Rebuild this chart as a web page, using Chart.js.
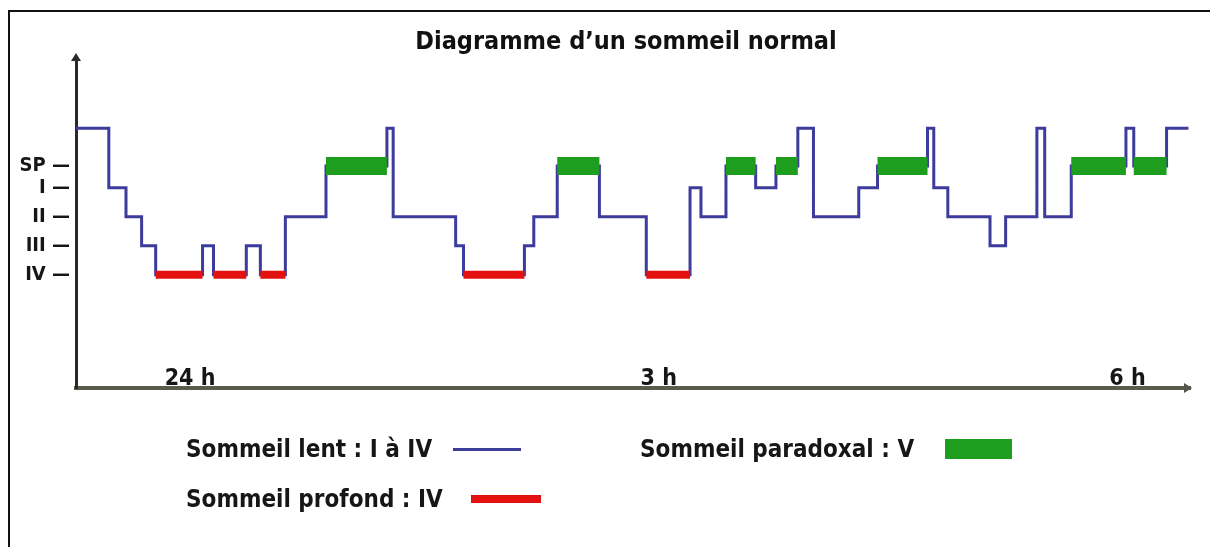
<!DOCTYPE html>
<html lang="fr">
<head>
    <meta charset="UTF-8">
    <title>Diagramme d'un sommeil normal</title>
    <script src="https://cdn.jsdelivr.net/npm/chart.js"></script>
    <style>
        html, body { margin: 0; padding: 0; background: #fff; }
        .wrap { position: relative; width: 1210px; height: 547px; overflow: hidden; }
        .frame { position: absolute; left: 8px; top: 10px; width: 1400px; height: 800px;
                 border-left: 2px solid #111; border-top: 2px solid #111; }
        canvas { position: absolute; left: 0; top: 0; }
        #legend { position: absolute; left: 186px; top: 436px; display: grid;
                  grid-template-columns: 454px auto; row-gap: 24px;
                  font-family: 'DejaVu Sans Condensed', 'DejaVu Sans', sans-serif;
                  font-weight: bold; font-size: 24px; color: #161616; }
        .item { display: flex; align-items: center; height: 26px; }
        .swatch { display: inline-block; }
    </style>
</head>
<body>
<div class="wrap">
    <div class="frame"></div>
    <canvas id="chart" width="1210" height="547"></canvas>
    <div id="legend"></div>
</div>

<script>
    // stades du sommeil (de bas en haut) et leur niveau sur l'axe
    const stageNames = ['IV', 'III', 'II', 'I', 'SP', 'W'];
    const stageLevels = [0, 1, 2, 3, 3.75, 5.05];
    const tickStages = ['SP', 'I', 'II', 'III', 'IV'];

    // début de chaque phase (heures après 24 h) et stade correspondant
    const startTimes = [-0.73, -0.52, -0.41, -0.31, -0.22, 0.08, 0.15, 0.36, 0.45, 0.61,
                        0.87, 1.26, 1.30, 1.70, 1.75, 2.14, 2.20, 2.35, 2.62, 2.92,
                        3.20, 3.27, 3.43, 3.62, 3.75, 3.89, 3.99, 4.28, 4.40, 4.72,
                        4.76, 4.85, 5.12, 5.22, 5.42, 5.47, 5.64, 5.99, 6.04, 6.25];
    const stages = ['W', 'I', 'II', 'III', 'IV', 'III', 'IV', 'III', 'IV', 'II',
                    'SP', 'W', 'II', 'III', 'IV', 'III', 'II', 'SP', 'II', 'IV',
                    'I', 'II', 'SP', 'I', 'SP', 'W', 'II', 'I', 'SP', 'W',
                    'I', 'II', 'III', 'II', 'W', 'II', 'SP', 'W', 'SP', 'W'];
    const endTime = 6.39;

    // graduations de l'axe du temps
    const hourTicks = [0, 3, 6];
    const hourLabels = ['24 h', '3 h', '6 h'];

    const TITLE = 'Diagramme d\u2019un sommeil normal';
    const FONT = "'DejaVu Sans Condensed', 'DejaVu Sans', sans-serif";
    const level = s => stageLevels[stageNames.indexOf(s)];

    // courbe complète
    const hypno = startTimes.map((t, i) => ({ x: t, y: level(stages[i]) }));
    hypno.push({ x: endTime, y: level(stages[stages.length - 1]) });

    // segments d'un seul stade (coupés par des trous)
    function bands(stage) {
        const pts = [];
        stages.forEach((s, i) => {
            if (s !== stage) return;
            const end = i + 1 < startTimes.length ? startTimes[i + 1] : endTime;
            pts.push({ x: startTimes[i], y: level(s) }, { x: end, y: level(s) }, { x: end, y: null });
        });
        return pts;
    }

    // titre, flèches au bout des axes, heures posées au-dessus de l'axe
    const decor = {
        id: 'decor',
        afterDraw(chart) {
            const { ctx, chartArea: a } = chart;
            const xs = chart.scales.x;
            ctx.save();
            ctx.fillStyle = '#2a2a2a';
            ctx.beginPath();
            ctx.moveTo(a.left - 5, a.top + 4);
            ctx.lineTo(a.left, a.top - 4);
            ctx.lineTo(a.left + 5, a.top + 4);
            ctx.fill();
            ctx.fillStyle = '#55554a';
            ctx.beginPath();
            ctx.moveTo(a.right - 6, a.bottom - 5);
            ctx.lineTo(a.right + 2, a.bottom);
            ctx.lineTo(a.right - 6, a.bottom + 5);
            ctx.fill();

            ctx.fillStyle = '#111';
            ctx.textAlign = 'center';
            ctx.textBaseline = 'middle';
            ctx.font = 'bold 25px ' + FONT;
            ctx.fillText(TITLE, 626, 42);

            ctx.fillStyle = '#161616';
            ctx.font = 'bold 23px ' + FONT;
            ctx.textBaseline = 'alphabetic';
            hourTicks.forEach((v, i) => {
                ctx.fillText(hourLabels[i], xs.getPixelForValue(v), a.bottom - 3);
            });
            ctx.restore();
        }
    };

    const chart = new Chart(document.getElementById('chart'), {
        type: 'line',
        data: {
            datasets: [
                {
                    label: 'Sommeil lent : I à IV',
                    data: hypno,
                    stepped: 'before',
                    borderColor: '#3d3b9c',
                    borderWidth: 3,
                    pointRadius: 0,
                    order: 2,
                    swatch: { gap: 21, width: 68, height: 3 }
                },
                {
                    label: 'Sommeil paradoxal : V',
                    data: bands('SP'),
                    borderColor: '#1f9d1f',
                    borderWidth: 18,
                    borderCapStyle: 'butt',
                    pointRadius: 0,
                    spanGaps: false,
                    order: 1,
                    swatch: { gap: 31, width: 67, height: 20 }
                },
                {
                    label: 'Sommeil profond : IV',
                    data: bands('IV'),
                    borderColor: '#e3120f',
                    borderWidth: 8,
                    borderCapStyle: 'butt',
                    pointRadius: 0,
                    spanGaps: false,
                    order: 1,
                    swatch: { gap: 28, width: 70, height: 8 }
                }
            ]
        },
        options: {
            responsive: false,
            animation: false,
            events: [],
            layout: { padding: { left: 8, right: 20, top: 57, bottom: 157 } },
            plugins: {
                legend: { display: false },
                tooltip: { enabled: false },
                title: { display: false }
            },
            scales: {
                x: {
                    type: 'linear',
                    min: -0.73,
                    max: 6.40,
                    grid: { display: false, drawTicks: false },
                    border: { display: true, color: '#5b5b4c', width: 4 },
                    afterFit: s => { s.height = 2; },
                    ticks: { display: false }
                },
                y: {
                    min: -3.9,
                    max: 7.5,
                    grid: { display: false, drawTicks: false },
                    border: { display: true, color: '#2a2a2a', width: 3 },
                    afterBuildTicks: s => { s.ticks = tickStages.map(t => ({ value: level(t) })); },
                    afterFit: s => { s.width = 68; },
                    ticks: {
                        padding: 6,
                        color: '#161616',
                        font: { family: FONT, size: 20, weight: 'bold' },
                        callback: v => tickStages[tickStages.map(level).indexOf(v)] + ' \u2014'
                    }
                }
            }
        },
        plugins: [decor]
    });

    // légende HTML : texte puis échantillon
    const legend = document.getElementById('legend');
    [0, 1, 2].forEach(i => {
        const ds = chart.data.datasets[i];
        const item = document.createElement('div');
        item.className = 'item';
        item.textContent = ds.label;
        const sw = document.createElement('span');
        sw.className = 'swatch';
        sw.style.marginLeft = ds.swatch.gap + 'px';
        sw.style.width = ds.swatch.width + 'px';
        sw.style.height = ds.swatch.height + 'px';
        sw.style.background = ds.borderColor;
        item.appendChild(sw);
        legend.appendChild(item);
    });
</script>
</body>
</html>
